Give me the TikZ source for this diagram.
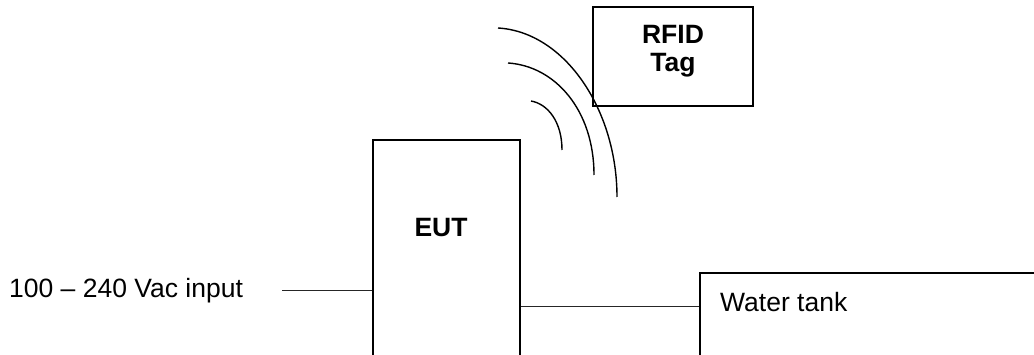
\documentclass[tikz,border=0pt]{standalone}
\usepackage{fontspec}
\setmainfont{Liberation Sans}
\begin{document}
\begin{tikzpicture}[x=1pt,y=-1pt,
  box/.style={draw,line width=1.4pt,rectangle,inner sep=0pt},
  wire/.style={draw,line width=1pt,black!85},
  wave/.style={draw,line width=1.4pt},
  txt/.style={font=\fontsize{26.5}{28}\selectfont,inner sep=0pt},
  btxt/.style={font=\fontsize{26.5}{28}\selectfont\bfseries,inner sep=0pt,align=center}]
\useasboundingbox (0,0) rectangle (1034,355);
\clip (0,0) rectangle (1034,355);
% EUT box (extends past bottom edge)
\node[box,minimum width=147pt,minimum height=240pt] (eut) at (446.5,260) {};
\node[btxt] (eutlbl) at (441,228) {EUT};
% RFID tag box
\node[box,minimum width=160pt,minimum height=99pt] (rfid) at (673,56.5) {};
\node[btxt] (rfidlbl) at (673,51) {RFID\\Tag};
% Water tank box (extends past right and bottom edges)
\node[box,minimum width=400pt,minimum height=120pt] (tank) at (900,333) {};
\node[txt,anchor=west] (tanklbl) at (720,302) {Water tank};
% input label and line
\node[txt,anchor=west] (inlbl) at (9,291) {100 – 240 Vac input};
\coordinate (in1) at (282,291);
\draw[wire] (in1) -- (in1 -| eut.west);
\coordinate (out) at (0,307);
\draw[wire] (eut.east |- out) -- (out -| tank.west);
% radio waves
\coordinate (w1a) at (498,28);
\coordinate (w1b) at (617,197);
\coordinate (w2a) at (508,63);
\coordinate (w2b) at (594,175);
\coordinate (w3a) at (531,101);
\coordinate (w3b) at (562,150);
\draw[wave] (w1a) .. controls (565,32) and (617,110) .. (w1b);
\draw[wave] (w2a) .. controls (555,66) and (594,110) .. (w2b);
\draw[wave] (w3a) .. controls (548,104) and (562,122) .. (w3b);
\end{tikzpicture}
\end{document}
